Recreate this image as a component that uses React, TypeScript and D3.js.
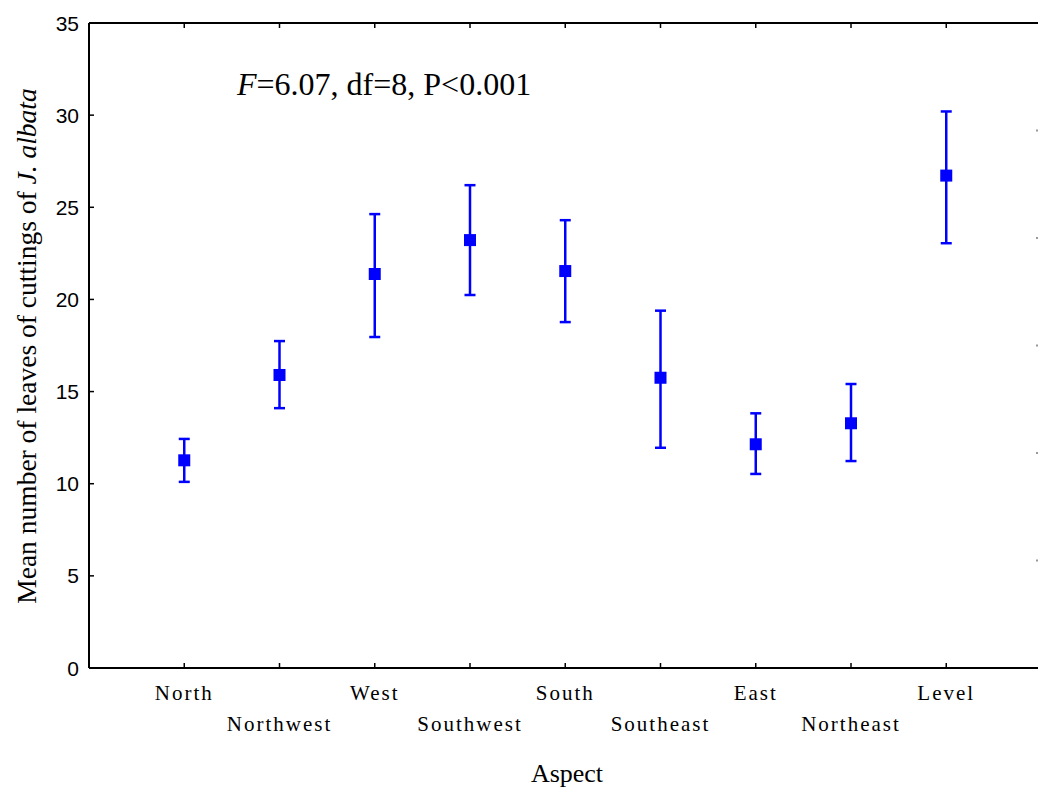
import React from "react";
import * as d3 from "d3";

const categories = ["North", "Northwest", "West", "Southwest", "South", "Southeast", "East", "Northeast", "Level"];
const means = [11.27, 15.9, 21.38, 23.22, 21.54, 15.75, 12.14, 13.28, 26.72];
const upper = [12.43, 17.74, 24.63, 26.2, 24.3, 19.39, 13.82, 15.41, 30.2];
const lower = [10.1, 14.1, 17.96, 20.24, 18.77, 11.95, 10.53, 11.23, 23.05];
const yTicks = [0, 5, 10, 15, 20, 25, 30, 35];
const rightTicks = [1, 2, 3, 4, 5];

const W = 1038;
const H = 787;
const left = 89;
const top = 23;
const bottom = 668;
const right = 1041.5;

export default function App() {
  const x = d3.scaleLinear().domain([-1, categories.length]).range([left, right]);
  const y = d3.scaleLinear().domain([0, 35]).range([bottom, top]);
  const yr = d3.scaleLinear().domain([0, 6]).range([bottom, top]);
  const blue = "#0000ff";
  const serif = "'Liberation Serif', 'Times New Roman', serif";
  const sans = "'Liberation Sans', Arial, sans-serif";
  return (
    <svg width={W} height={H} style={{ position: "absolute", left: 0, top: 0, background: "#fff" }}>
      <rect x={0} y={0} width={W} height={H} fill="#fff" />
      {/* frame */}
      <line x1={left} x2={W + 5} y1={top} y2={top} stroke="#000" strokeWidth={2} />
      <line x1={left} x2={W + 5} y1={bottom} y2={bottom} stroke="#000" strokeWidth={2} />
      <line x1={left} x2={left} y1={top} y2={bottom} stroke="#000" strokeWidth={2} />
      {/* y ticks */}
      {yTicks.map((t) => (
        <g key={t}>
          <line x1={left} x2={left + 5} y1={y(t)} y2={y(t)} stroke="#000" strokeWidth={1.5} />
          <text x={79} y={y(t)} dy="0.36em" textAnchor="end" fontFamily={sans} fontSize={21}>
            {t}
          </text>
        </g>
      ))}
      {/* right-axis faint ticks */}
      {rightTicks.map((t) => (
        <rect key={t} x={1036} y={yr(t) - 1} width={2} height={2} fill="#999" />
      ))}
      {/* x ticks and labels */}
      {categories.map((c, i) => (
        <g key={c}>
          <line x1={x(i)} x2={x(i)} y1={bottom} y2={bottom - 5} stroke="#000" strokeWidth={1.5} />
          <line x1={x(i)} x2={x(i)} y1={top} y2={top + 5} stroke="#000" strokeWidth={1.5} />
          <text
            x={x(i)}
            y={i % 2 === 0 ? 700 : 731}
            textAnchor="middle"
            fontFamily={serif}
            fontSize={21}
            letterSpacing={2}
          >
            {c}
          </text>
        </g>
      ))}
      {/* error bars */}
      {categories.map((c, i) => (
        <g key={"e" + c} stroke={blue} strokeWidth={2.5}>
          <line x1={x(i)} x2={x(i)} y1={y(upper[i])} y2={y(lower[i])} />
          <line x1={x(i) - 5.5} x2={x(i) + 5.5} y1={y(upper[i])} y2={y(upper[i])} />
          <line x1={x(i) - 5.5} x2={x(i) + 5.5} y1={y(lower[i])} y2={y(lower[i])} />
        </g>
      ))}
      {categories.map((c, i) => (
        <rect key={"m" + c} x={x(i) - 6} y={y(means[i]) - 6} width={12} height={12} fill={blue} />
      ))}
      {/* annotation */}
      <text x={237} y={95} fontFamily={serif} fontSize={32}>
        <tspan fontStyle="italic">F</tspan>=6.07, df=8, P&lt;0.001
      </text>
      {/* axis titles */}
      <text x={567} y={782} textAnchor="middle" fontFamily={serif} fontSize={26}>
        Aspect
      </text>
      <text
        transform={`translate(36, 346) rotate(-90)`}
        textAnchor="middle"
        fontFamily={serif}
        fontSize={27.5}
      >
        Mean number of leaves of cuttings of <tspan fontStyle="italic">J. albata</tspan>
      </text>
    </svg>
  );
}
